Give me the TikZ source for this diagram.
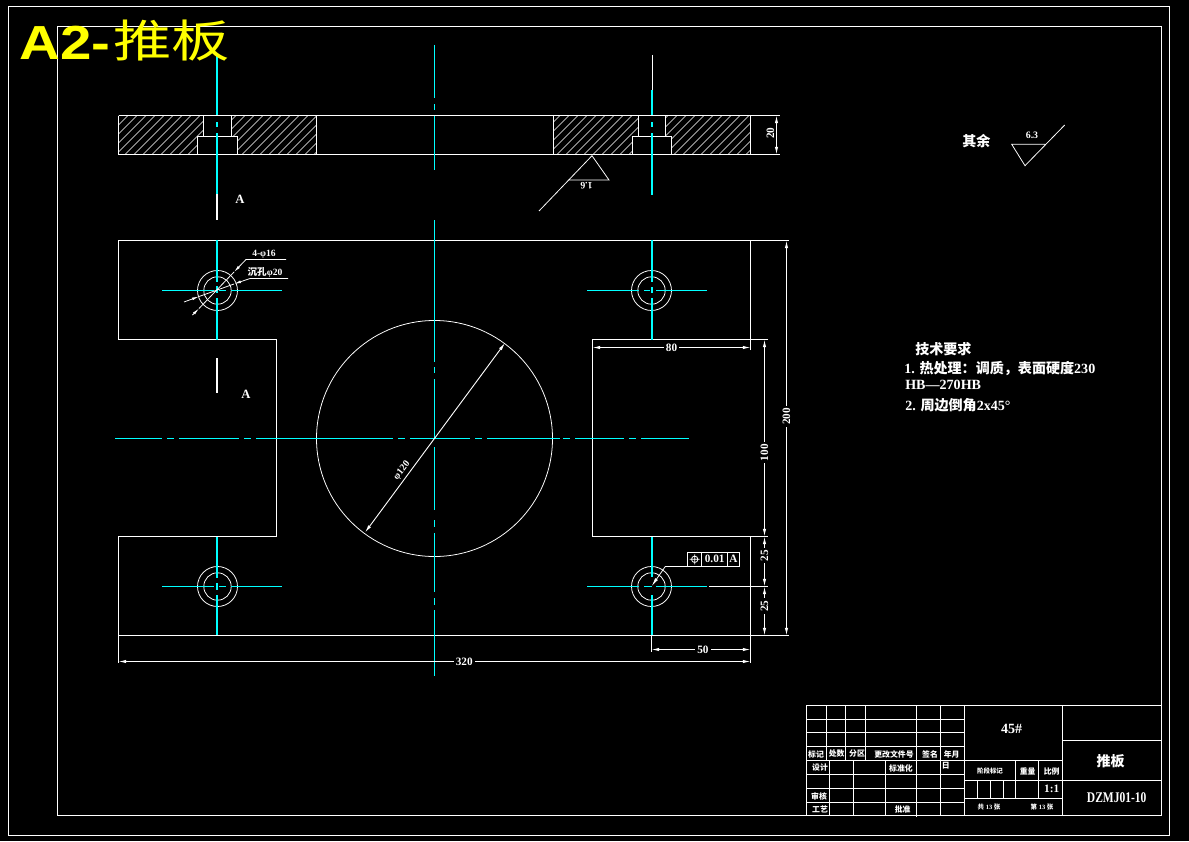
\documentclass[tikz,border=0pt]{standalone}
\usepackage{fontspec}
\usetikzlibrary{arrows.meta}
\setmainfont{Liberation Serif}
\setsansfont{Liberation Sans}
\newfontfamily\cjk{Noto Sans CJK SC}
\definecolor{ecyan}{RGB}{0,255,255}
\definecolor{eyellow}{RGB}{255,255,0}
\tikzset{
  eline/.style={white,line width=.72pt},
  ethin/.style={white,line width=.55pt},
  ecen/.style={ecyan,line width=.75pt},
  edim/.style={<->,>={Latex[length=5.5pt,width=2.4pt]},white,line width=.65pt},
  elab/.style={white,inner sep=0pt,font=\fontsize{8}{9}\selectfont\bfseries},
  esmall/.style={white,inner sep=0pt,font=\fontsize{7}{8}\selectfont\bfseries},
  egap/.style={elab,fill=black,inner xsep=1.5pt,inner ysep=.5pt},
  etb/.style={white,inner sep=0pt,font=\fontsize{5.6}{6}\selectfont\cjk\bfseries},
  etxt/.style={white,inner sep=0pt,anchor=west,font=\fontsize{10}{12}\selectfont\bfseries}
}
\begin{document}
\begin{tikzpicture}[x=0.025cm,y=-0.025cm]
        \useasboundingbox (0,0) rectangle (1189,841);
        \fill[black] (0,0) rectangle (1189,841);
        % drawing frames
        \draw[eline] (8.5,6.5) rectangle (1169.5,835.5);
        \draw[eline] (57.5,26.5) rectangle (1161.5,815.5);
        % section view
        \begin{scope}
            \clip (118.5,115.5) -- (203.5,115.5) -- (203.5,136.5) -- (197.5,136.5) -- (197.5,154.5) -- (118.5,154.5) -- cycle
                  (231.5,115.5) -- (316.5,115.5) -- (316.5,154.5) -- (237.5,154.5) -- (237.5,136.5) -- (231.5,136.5) -- cycle
                  (553.5,115.5) -- (638.5,115.5) -- (638.5,136.5) -- (632.5,136.5) -- (632.5,154.5) -- (553.5,154.5) -- cycle
                  (665.5,115.5) -- (750.5,115.5) -- (750.5,154.5) -- (671.5,154.5) -- (671.5,136.5) -- (665.5,136.5) -- cycle;
            \foreach \x in {80,89,...,760}
                \draw[white,line width=.38pt] (\x,154.5) -- (\x+39,115.5);
        \end{scope}
        \draw[eline] (118.5,115.5) -- (780,115.5) (118.5,154.5) -- (780,154.5);
        \draw[eline] (118.5,115.5) -- (118.5,154.5) (316.5,115.5) -- (316.5,154.5) (553.5,115.5) -- (553.5,154.5) (750.5,115.5) -- (750.5,154.5);
        \draw[eline] (203.5,115.5) -- (203.5,136.5) (197.5,154.5) -- (197.5,136.5) -- (237.5,136.5) -- (237.5,154.5) (231.5,115.5) -- (231.5,136.5);
        \draw[eline] (638.5,115.5) -- (638.5,136.5) (632.5,154.5) -- (632.5,136.5) -- (671.5,136.5) -- (671.5,154.5) (665.5,115.5) -- (665.5,136.5);
        % plate outline
        \draw[eline] (750.5,350) -- (750.5,240.5) -- (118.5,240.5) -- (118.5,339.5) -- (276.5,339.5) -- (276.5,536.5) -- (118.5,536.5) -- (118.5,635.5) -- (750.5,635.5) -- (750.5,536.5);
        \draw[eline] (768,339.5) -- (592.5,339.5) -- (592.5,536.5) -- (768,536.5);
        \draw[eline] (750.5,240.5) -- (789,240.5) (750.5,635.5) -- (789,635.5);
        \draw[eline] (118.5,635.5) -- (118.5,663) (750.5,635.5) -- (750.5,663) (651.5,635.5) -- (651.5,652);
        \draw[ethin] (434.5,438.5) circle (118);
        % holes
        \coordinate (h1) at (217.5,290.5);
        \coordinate (h2) at (651.5,290.5);
        \coordinate (h3) at (217.5,586.5);
        \coordinate (h4) at (651.5,586.5);
        \draw[ethin] (h1) circle (20) (h1) circle (13.7);
        \draw[ethin] (h2) circle (20) (h2) circle (13.7);
        \draw[ethin] (h3) circle (20) (h3) circle (13.7);
        \draw[ethin] (h4) circle (20) (h4) circle (13.7);
        % centre lines
        \draw[ecen] (434.5,45) -- (434.5,98) (434.5,104) -- (434.5,110) (434.5,116) -- (434.5,170);
        \draw[ecen] (434.5,220) -- (434.5,362) (434.5,367) -- (434.5,373) (434.5,379) -- (434.5,438) (434.5,447) -- (434.5,510) (434.5,520) -- (434.5,527) (434.5,533) -- (434.5,592) (434.5,598) -- (434.5,605) (434.5,610) -- (434.5,676);
        \draw[ecen] (115,438.5) -- (162,438.5) (167,438.5) -- (174,438.5) (179,438.5) -- (239,438.5) (244,438.5) -- (251,438.5) (256,438.5) -- (393,438.5) (398,438.5) -- (405,438.5) (410,438.5) -- (470,438.5) (475,438.5) -- (482,438.5) (487,438.5) -- (560,438.5) (563,438.5) -- (570,438.5) (575,438.5) -- (624,438.5) (629,438.5) -- (636,438.5) (641,438.5) -- (689,438.5);
        \draw[ecen] (217,55) -- (217,115) (217,122) -- (217,127) (217,133) -- (217,194);
        \draw[eline] (217,194) -- (217,220) (217,358) -- (217,393);
        \draw[eline] (652,55) -- (652,90);
        \draw[ecen] (652,90) -- (652,115) (652,122) -- (652,127) (652,133) -- (652,195);
        \draw[ecen] (217,240) -- (217,282) (217,286) -- (217,293) (217,298) -- (217,339.5);
        \draw[ecen] (652,240) -- (652,282) (652,287) -- (652,293) (652,298) -- (652,339.5);
        \draw[ecen] (217,537) -- (217,578) (217,583) -- (217,590) (217,595) -- (217,635);
        \draw[ecen] (652,537) -- (652,577) (652,595) -- (652,635);
        \draw[ecen] (162,290.5) -- (214,290.5) (219,290.5) -- (226,290.5) (231,290.5) -- (282,290.5);
        \draw[ecen] (587,290.5) -- (639,290.5) (644,290.5) -- (650,290.5) (656,290.5) -- (707,290.5);
        \draw[ecen] (162,586.5) -- (214,586.5) (219,586.5) -- (226,586.5) (231,586.5) -- (282,586.5);
        \draw[ecen] (587,586.5) -- (639,586.5) (644,586.5) -- (652,586.5) (656,586.5) -- (707,586.5);
        \draw[eline] (709,586.5) -- (768,586.5);
        % dimensions
        \draw[edim] (776.5,115.5) -- (776.5,154.5);
        \node[elab,rotate=90] (d20) at (770.5,133) {20};
        \draw[edim] (786.5,240.5) -- node[egap,rotate=90,pos=.445] (d200) {200} (786.5,635.5);
        \draw[edim] (764.5,339.5) -- node[egap,rotate=90,pos=.574] (d100) {100} (764.5,536.5);
        \draw[edim] (764.5,536.5) -- node[egap,rotate=90,pos=.38] (d25a) {25} (764.5,586.5);
        \draw[edim] (764.5,586.5) -- node[egap,rotate=90,pos=.4] (d25b) {25} (764.5,635.5);
        \draw[edim] (592.5,347.5) -- node[egap] (d80) {80} (750.5,347.5);
        \draw[edim] (651.5,649.5) -- node[egap,pos=.52] (d50) {50} (750.5,649.5);
        \draw[edim] (118.5,661.5) -- node[egap,pos=.547] (d320) {320} (750.5,661.5);
        \draw[edim] (365,532.5) -- (505,343);
        \node[esmall,rotate=52] (d120) at (402,470.5) {φ120};
        % hole leaders
        \draw[ethin,-{Latex[length=5pt,width=2pt]}] (286,259.5) -- (246,259.5) -- (234,272);
        \draw[ethin,-{Latex[length=5pt,width=2pt]}] (192.5,315) -- (199,308.5);
        \draw[ethin,-{Latex[length=5pt,width=2pt]}] (288,278.5) -- (250,278.5) -- (234,284);
        \draw[ethin,-{Latex[length=5pt,width=2pt]}] (184,302) -- (199,296.5);
        \draw[ethin] (199,308.5) -- (234,272) (199,296.5) -- (234,284);
        \node[esmall,font=\fontsize{6.8}{7}\selectfont\bfseries] (l16) at (264,254) {4-φ16};
        \node[esmall,font=\fontsize{6.8}{7}\selectfont\bfseries] (l20) at (265,272.5) {{\cjk 沉孔}φ20};
        % section marks
        \node[esmall,font=\fontsize{9}{10}\selectfont\bfseries] (ma) at (240,199) {A};
        \node[esmall,font=\fontsize{9}{10}\selectfont\bfseries] (mb) at (246,394) {A};
        % surface finish
        \draw[ethin] (539,211) -- (592,155.7) -- (609,180) -- (568,180);
        \node[esmall,rotate=180] (r16) at (586.5,185.5) {1.6};
        \draw[ethin] (1064.7,125) -- (1025,165.7) -- (1011.7,144.3) -- (1045,144.3);
        \node[esmall] (r63) at (1032,135.5) {6.3};
        \node[etxt,font=\fontsize{10}{12}\selectfont\cjk\bfseries] (rest) at (962,141.5) {其余};
        % position tolerance
        \draw[eline] (687.5,552.5) rectangle (739.5,566.5);
        \draw[eline] (701.5,552.5) -- (701.5,566.5) (727.5,552.5) -- (727.5,566.5);
        \draw[ethin] (694.7,559.3) circle (3.2) (689.7,559.3) -- (699.7,559.3) (694.7,554.3) -- (694.7,564.3);
        \node[elab] (t01) at (714.7,558.8) {0.01};
        \node[elab] (ta) at (733.5,559) {A};
        \draw[ethin,-{Latex[length=6pt,width=2.4pt]}] (687.5,566.5) -- (665.3,566.5) -- (651.7,586);
        % technical notes
        \node[etxt,font=\fontsize{10}{12}\selectfont\cjk\bfseries] (n0) at (915,349) {技术要求};
        \node[etxt] (n1) at (904,368) {1. {\cjk 热处理：调质，表面硬度}230};
        \node[etxt] (n2) at (905,385) {HB—270HB};
        \node[etxt] (n3) at (905,405) {2. {\cjk 周边倒角}2x45°};
        % title block
        \draw[eline] (806.5,705.5) rectangle (1161.5,815.5);
        \draw[eline] (806.5,719.5) -- (964.5,719.5) (806.5,732.5) -- (964.5,732.5) (806.5,746.5) -- (964.5,746.5) (806.5,760.5) -- (1062.5,760.5) (806.5,774.5) -- (964.5,774.5) (806.5,788.5) -- (964.5,788.5) (806.5,802.5) -- (964.5,802.5);
        \draw[eline] (826.5,705.5) -- (826.5,760.5) (845.5,705.5) -- (845.5,760.5) (865.5,705.5) -- (865.5,760.5);
        \draw[eline] (829.5,760.5) -- (829.5,815.5) (853.5,760.5) -- (853.5,815.5) (885.5,760.5) -- (885.5,815.5);
        \draw[eline] (916.5,705.5) -- (916.5,817) (940.5,705.5) -- (940.5,815.5) (964.5,705.5) -- (964.5,815.5) (1062.5,705.5) -- (1062.5,815.5);
        \draw[eline] (1062.5,740.5) -- (1161.5,740.5) (964.5,780.5) -- (1161.5,780.5) (964.5,798.5) -- (1062.5,798.5);
        \draw[eline] (1015.5,760.5) -- (1015.5,798.5) (1038.5,760.5) -- (1038.5,798.5);
        \draw[eline] (977.5,780.5) -- (977.5,798.5) (990.5,780.5) -- (990.5,798.5) (1003.5,780.5) -- (1003.5,798.5);
        \node[etb] (b1) at (816,754) {标记};
        \node[etb] (b2) at (836.7,754) {处数};
        \node[etb] (b3) at (857,754) {分区};
        \node[etb] (b4) at (894,754) {更改文件号};
        \node[etb] (b5) at (930,754) {签名};
        \node[etb] (b6) at (951.7,754) {年月};
        \node[etb] (b7) at (945.7,766) {日};
        \node[etb] (b8) at (820,768) {设计};
        \node[etb] (b9) at (901,768) {标准化};
        \node[etb] (b10) at (819,796.7) {审核};
        \node[etb] (b11) at (820,809.7) {工艺};
        \node[etb] (b12) at (902.7,809.7) {批准};
        \node[etb,font=\fontsize{4.6}{5}\selectfont\cjk\bfseries] (b13) at (990,770.7) {阶段标记};
        \node[etb] (b14) at (1027.7,771.7) {重量};
        \node[etb] (b15) at (1051.7,771.7) {比例};
        \node[elab] (b16) at (1051.7,789) {1:1};
        \node[etb,font=\fontsize{4.6}{5}\selectfont\bfseries] (b17) at (989,806.7) {{\cjk 共} 13 {\cjk 张}};
        \node[etb,font=\fontsize{4.6}{5}\selectfont\bfseries] (b18) at (1042,806.7) {{\cjk 第} 13 {\cjk 张}};
        \node[elab,font=\fontsize{10}{12}\selectfont\bfseries] (b19) at (1011.7,729.3) {45\#};
        \node[etb,font=\fontsize{10}{12}\selectfont\cjk\bfseries] (b20) at (1110.7,761) {推板};
        \node[elab,font=\fontsize{10.5}{12}\selectfont\bfseries] (b21) at (1116.7,797.7) {\scalebox{.78}[1]{DZMJ01-10}};
        % big caption
        \node[inner sep=0pt,anchor=base west,eyellow,font=\fontsize{34}{36}\selectfont\sffamily\bfseries] (cap1) at (19,59.3) {\scalebox{1.18}[1]{A2-}};
        \node[inner sep=0pt,anchor=base west,eyellow,font=\fontsize{37}{40}\selectfont\cjk] (cap2) at (113,58) {\scalebox{1.12}[.86]{推板}};
\end{tikzpicture}
\end{document}
